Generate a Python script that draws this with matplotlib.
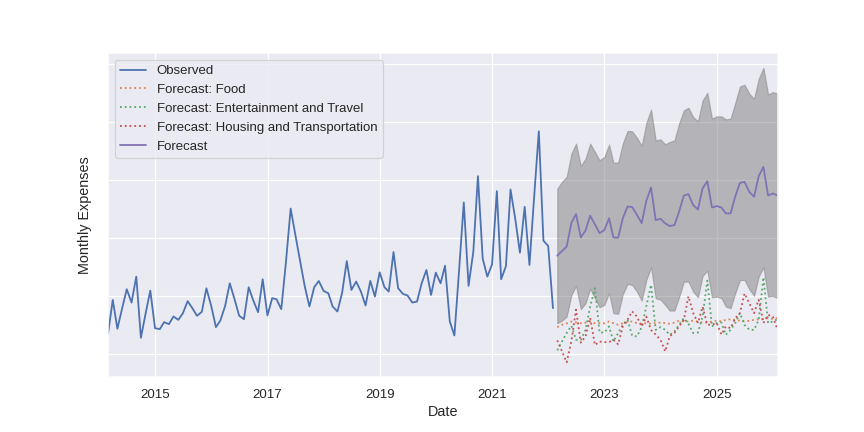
import pandas as pd
import matplotlib
matplotlib.use("Agg")
import matplotlib.pyplot as plt
import matplotlib.dates as mdates
import seaborn as sns

# observed monthly totals (Feb 2014 - Jan 2022)
observed = [1172, 1464, 1215, 1392, 1556, 1441, 1665, 1137, 1349, 1544,
            1220, 1212, 1272, 1255, 1321, 1292, 1349, 1453, 1392, 1327,
            1361, 1564, 1413, 1229, 1287, 1413, 1607, 1470, 1327, 1298,
            1573, 1459, 1358, 1642, 1330, 1479, 1470, 1384, 1785, 2252,
            2029, 1802, 1579, 1407, 1573, 1627, 1542, 1521, 1407, 1364,
            1521, 1799, 1550, 1622, 1536, 1416, 1628, 1493, 1702, 1573,
            1536, 1877, 1565, 1516, 1502, 1441, 1450, 1607, 1722, 1507,
            1699, 1607, 1759, 1278, 1157, 1731, 2304, 1585, 1880, 2531,
            1820, 1665, 1770, 2402, 1642, 1755, 2416, 2160, 1871, 2267,
            1765, 2342, 2918, 1975, 1929, 1393]

# total forecast (Feb 2022 - Jan 2026) with interval
forecast = [1845, 1886, 1923, 2129, 2204, 2003, 2063, 2190, 2115, 2040,
            2066, 2167, 2003, 2000, 2167, 2270, 2264, 2198, 2126, 2318,
            2433, 2152, 2164, 2124, 2101, 2109, 2224, 2364, 2376, 2281,
            2244, 2425, 2488, 2261, 2273, 2261, 2210, 2210, 2353, 2473,
            2482, 2396, 2353, 2531, 2611, 2364, 2382, 2364]
upper = [2424, 2482, 2525, 2726, 2812, 2620, 2683, 2812, 2740, 2668,
         2697, 2803, 2648, 2648, 2812, 2921, 2918, 2863, 2792, 2989,
         3104, 2840, 2849, 2806, 2826, 2840, 2984, 3098, 3121, 3041,
         3004, 3184, 3250, 3027, 3047, 3047, 3021, 3027, 3161, 3305,
         3319, 3242, 3199, 3371, 3465, 3236, 3256, 3242]
lower = [1263, 1286, 1321, 1507, 1585, 1384, 1436, 1562, 1478, 1401,
         1421, 1522, 1350, 1344, 1513, 1602, 1593, 1536, 1458, 1636,
         1745, 1478, 1467, 1421, 1372, 1372, 1487, 1622, 1622, 1536,
         1487, 1671, 1717, 1487, 1493, 1479, 1407, 1392, 1522, 1636,
         1636, 1556, 1499, 1665, 1745, 1493, 1499, 1479]

# per-category forecasts
food = [1229, 1250, 1262, 1278, 1270, 1262, 1268, 1278, 1262, 1264,
        1262, 1278, 1264, 1250, 1262, 1272, 1278, 1264, 1258, 1264,
        1258, 1264, 1268, 1264, 1258, 1268, 1285, 1278, 1278, 1285,
        1278, 1268, 1268, 1278, 1285, 1278, 1292, 1297, 1292, 1285,
        1278, 1285, 1292, 1297, 1300, 1307, 1300, 1307]
entertainment = [1029, 1106, 1178, 1241, 1120, 1120, 1206, 1407, 1565, 1183,
                 1183, 1235, 1106, 1178, 1249, 1292, 1155, 1149, 1229, 1407,
                 1593, 1206, 1229, 1206, 1163, 1192, 1249, 1307, 1258, 1178,
                 1183, 1321, 1631, 1235, 1264, 1269, 1163, 1206, 1264, 1350,
                 1249, 1206, 1206, 1292, 1659, 1264, 1278, 1298]
housing = [1115, 1020, 925, 1110, 1380, 1095, 1150, 1310, 1075, 1105,
           1100, 1100, 1120, 1080, 1235, 1295, 1365, 1320, 1235, 1320,
           1205, 1165, 1120, 1020, 1150, 1180, 1235, 1290, 1495, 1350,
           1265, 1405, 1250, 1250, 1265, 1165, 1235, 1220, 1305, 1350,
           1520, 1435, 1350, 1465, 1265, 1335, 1320, 1205]

obs_dates = pd.date_range("2014-02-28", periods=len(observed), freq=pd.offsets.MonthEnd())
fc_dates = pd.date_range("2022-02-28", periods=len(forecast), freq=pd.offsets.MonthEnd())

sns.set_theme(style="darkgrid")
plt.rcParams["font.family"] = ["Liberation Sans", "DejaVu Sans"]

fig, ax = plt.subplots(figsize=(10, 5), dpi=86.4)
fig.subplots_adjust(left=0.125, right=0.9, top=0.877, bottom=0.127)

ax.plot(obs_dates, observed, label="Observed")
ax.plot(fc_dates, food, ":", label="Forecast: Food")
ax.plot(fc_dates, entertainment, ":", label="Forecast: Entertainment and Travel")
ax.plot(fc_dates, housing, ":", label="Forecast: Housing and Transportation")
ax.plot(fc_dates, forecast, label="Forecast")
ax.fill_between(fc_dates, lower, upper, color="gray", alpha=0.5)

ax.set_xlim(obs_dates[0], fc_dates[-1])
ax.set_xticks([pd.Timestamp(f"{y}-01-01") for y in range(2015, 2027, 2)])
ax.xaxis.set_major_formatter(mdates.DateFormatter("%Y"))
ax.set_yticklabels([])

ax.set_xlabel("Date")
ax.set_ylabel("Monthly Expenses")
ax.legend(loc="upper left")

fig.savefig("out.png", dpi=86.4)
